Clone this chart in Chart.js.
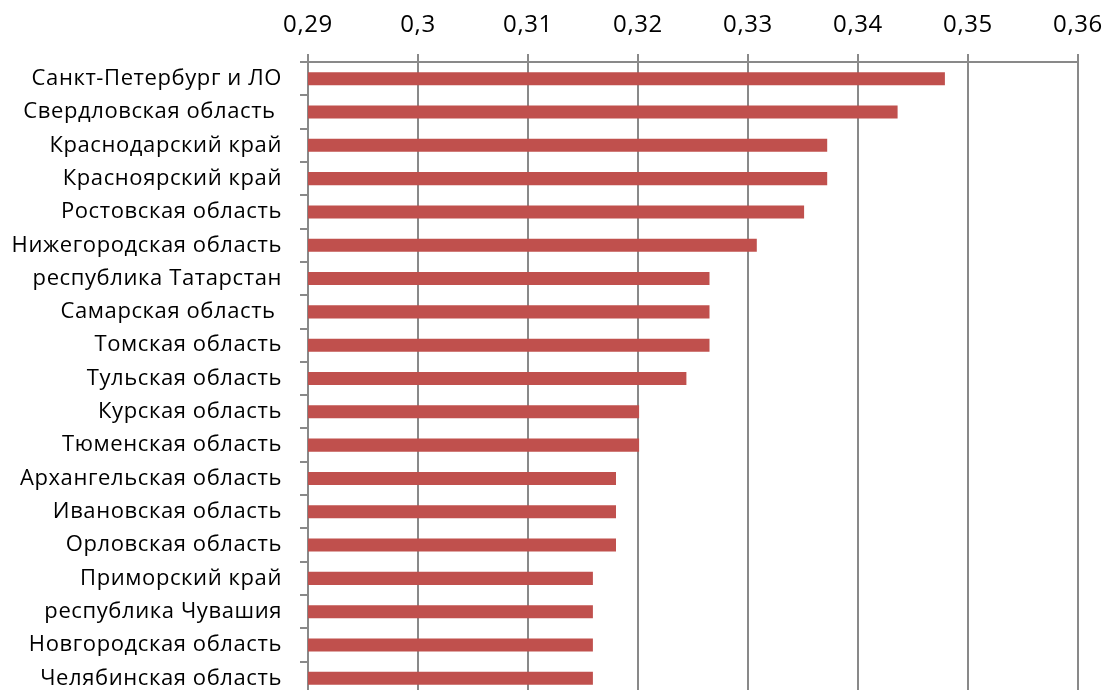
<!DOCTYPE html>
<html>
<head>
<meta charset="utf-8">
<script src="https://cdn.jsdelivr.net/npm/chart.js@4"></script>
<style>
  html, body { margin: 0; padding: 0; background: #fff; overflow: hidden; }
  #wrap { width: 1105px; height: 695px; position: relative; }
</style>
</head>
<body>
<div id="wrap"><canvas id="c"></canvas></div>
<script>
// Regions, top to bottom
const regions = [
  'Санкт-Петербург и ЛО',
  'Свердловская область ',
  'Краснодарский край',
  'Красноярский край',
  'Ростовская область',
  'Нижегородская область',
  'республика Татарстан',
  'Самарская область ',
  'Томская область',
  'Тульская область',
  'Курская область',
  'Тюменская область',
  'Архангельская область',
  'Ивановская область',
  'Орловская область',
  'Приморский край',
  'республика Чувашия',
  'Новгородская область',
  'Челябинская область'
];

// Index value per region
const values = [
  0.3479, 0.3436, 0.3372, 0.3372, 0.3351, 0.3308, 0.3265, 0.3265, 0.3265, 0.3244,
  0.3201, 0.3201, 0.3180, 0.3180, 0.3180, 0.3159, 0.3159, 0.3159, 0.3159
];

// Value axis range and step
const axisMin = 0.29;
const axisMax = 0.36;
const axisStep = 0.01;

const gridColor = '#898989';
const barColor = '#C0504D';
const fontFamily = '"Open Sans", "Noto Sans", "DejaVu Sans", sans-serif';

// Slightly open up the letter spacing of all drawn text
const letterSpacingPlugin = {
  id: 'letterSpacing',
  beforeDraw(chart) {
    if ('letterSpacing' in chart.ctx) chart.ctx.letterSpacing = '0.6px';
  }
};

new Chart(document.getElementById('c'), {
  type: 'bar',
  plugins: [letterSpacingPlugin],
  data: {
    labels: regions,
    datasets: [{
      data: values,
      backgroundColor: barColor,
      borderWidth: 0,
      barPercentage: 0.8,
      categoryPercentage: 0.49
    }]
  },
  options: {
    indexAxis: 'y',
    responsive: true,
    maintainAspectRatio: false,
    animation: false,
    layout: { padding: { left: 0, right: 27, top: 0, bottom: 0 } },
    plugins: {
      legend: { display: false },
      tooltip: { enabled: false }
    },
    scales: {
      x: {
        position: 'top',
        min: axisMin,
        max: axisMax,
        border: { display: true, color: gridColor, width: 2 },
        grid: {
          color: gridColor,
          lineWidth: 2,
          drawTicks: true,
          tickLength: 8
        },
        ticks: {
          stepSize: axisStep,
          padding: 14,
          color: '#000',
          font: { family: fontFamily, size: 24 },
          callback: (v) => String(Math.round(v * 100) / 100).replace('.', ',')
        },
        afterFit: (scale) => {
          scale.height = 62;
          scale.paddingLeft = 0;
          scale.paddingRight = 0;
        }
      },
      y: {
        border: { display: true, color: gridColor, width: 2 },
        grid: {
          drawOnChartArea: false,
          drawTicks: true,
          tickLength: 8,
          color: gridColor,
          lineWidth: 2,
          offset: true
        },
        ticks: {
          autoSkip: false,
          padding: 18,
          color: '#000',
          font: { family: fontFamily, size: 22 }
        },
        afterFit: (scale) => {
          scale.width = 308;
          scale.paddingTop = 0;
          scale.paddingBottom = 0;
        }
      }
    }
  }
});
</script>
</body>
</html>
